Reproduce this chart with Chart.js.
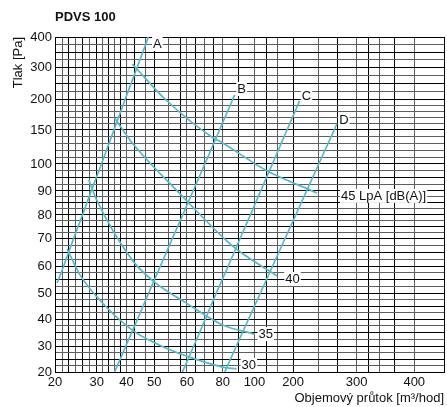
<!DOCTYPE html>
<html>
<head>
<meta charset="utf-8">
<script src="https://cdn.jsdelivr.net/npm/chart.js@4.4.1/dist/chart.umd.min.js"></script>
<style>
  html, body { margin: 0; background: #fff; }
  #wrap { width: 447px; height: 407px; position: relative; }
</style>
</head>
<body>
<div id="wrap"><canvas id="chart"></canvas></div>
<script>
// Axis ticks (values in m3/hod and Pa)
const xGrid = [20, 21.7, 23.3, 25, 26.7, 28.3, 30, 32, 34, 36, 38, 40, 43, 47, 50, 54.5, 58, 60, 65, 70, 75, 80, 90, 100, 130, 160, 200, 240, 270, 300, 320, 340, 365, 400, 450];
const xLabels = [20, 30, 40, 50, 60, 80, 100, 200, 300, 400];
const yGrid = [20, 22.5, 25, 27.5, 30, 32.5, 35, 37.5, 40, 42.5, 45, 47.5, 50, 52.5, 55, 57.5, 60, 62.5, 65, 67.5, 70, 72.5, 75, 77.5, 80, 82.5, 85, 87.5, 90, 92.5, 95, 97.5, 100,
  110, 120, 130, 140, 150, 160, 170, 180, 190, 200, 225, 250, 275, 300, 325, 350, 375, 400];
const yLabels = [20, 30, 40, 50, 60, 70, 80, 90, 100, 150, 200, 300, 400];

// Fan curves A-D
const flowA = [20.5, 22.1, 24.5, 26.6, 28.7, 31.6, 35.8, 39.6, 43.9, 47.9];
const pressA = [53.7, 60, 70, 80, 90, 100, 150, 200, 300, 400];
const flowB = [36, 39.8, 44.0, 48.0, 51.9, 55.6, 58.7, 63.4, 70.0, 78.2, 86.4, 87.5];
const pressB = [20, 30, 40, 50, 60, 70, 80, 90, 100, 150, 200, 212.5];
const flowC = [58.6, 63.8, 70.3, 76.4, 83.5, 91.1, 97.4, 115.9, 146.2, 184.1, 210];
const pressC = [20, 30, 40, 50, 60, 70, 80, 90, 100, 150, 196.8];
const flowD = [81.3, 88.6, 96.3, 115.4, 146.9, 179.7, 204.1, 221.1, 240.3, 264.5, 268.8];
const pressD = [20, 30, 40, 50, 60, 70, 80, 90, 100, 150, 159.7];

// Noise lines LpA dB(A)
const flow45 = [42.1, 53.6, 73.9, 80, 128.2, 237.5];
const press45 = [310, 198.4, 139.7, 130.9, 97.8, 89.2];
const flow40 = [36, 42.1, 57.6, 80, 89.4, 159];
const press40 = [169.4, 130.9, 89.2, 70.4, 65.7, 56.3];
const flow35 = [28.1, 30, 42.1, 50, 59.7, 80, 100];
const press35 = [94.1, 86.3, 62.1, 54.1, 46.2, 37.8, 34.4];
const flow30 = [22.9, 26, 31, 42.1, 51.5, 61.1, 80, 88.75];
const press30 = [66.1, 56.7, 47.3, 35.9, 30.4, 25.8, 21.9, 21.2];

const FONT = "'Liberation Sans', Arial, sans-serif";
const CURVE = '#55b8cb';
const INK = '#111';

// The printed nomogram grid is not a clean log grid, so the axes are calibrated
// piecewise between the labelled values (value -> fraction of axis length).
function toFrac(anchors, v) {
  for (let i = 1; i < anchors.length; i++) {
    const [v0, f0] = anchors[i - 1], [v1, f1] = anchors[i];
    if (v <= v1 || i === anchors.length - 1) return f0 + (v - v0) / (v1 - v0) * (f1 - f0);
  }
}
function fromFrac(anchors, f) {
  for (let i = 1; i < anchors.length; i++) {
    const [v0, f0] = anchors[i - 1], [v1, f1] = anchors[i];
    if (f <= f1 || i === anchors.length - 1) return v0 + (f - f0) / (f1 - f0) * (v1 - v0);
  }
}

class NomogramScale extends Chart.LinearScale {
  buildTicks() {
    return this.options.gridValues.map(v => ({ value: v }));
  }
  getPixelForValue(value) {
    return this.getPixelForDecimal(toFrac(this.options.anchors, value));
  }
  getValueForPixel(pixel) {
    return fromFrac(this.options.anchors, this.getDecimalForPixel(pixel));
  }
}
NomogramScale.id = 'nomogram';
NomogramScale.defaults = Chart.LinearScale.defaults;
Chart.register(NomogramScale);

const pts = (xs, ys) => xs.map((x, i) => ({ x, y: ys[i] }));

const fanLine = (label, xs, ys, offset) => ({
  label, data: pts(xs, ys), borderColor: CURVE, borderWidth: 1.7, showLine: true,
  pointRadius: 0, tension: 0, endLabel: { text: label, offset }
});
const noiseLine = (label, xs, ys, offset) => ({
  label, data: pts(xs, ys), borderColor: CURVE, borderWidth: 1.7, showLine: true,
  pointRadius: 0, tension: 0.4, cubicInterpolationMode: 'monotone', endLabel: { text: label, offset }
});

const endLabels = {
  id: 'endLabels',
  afterDatasetsDraw(chart) {
    const ctx = chart.ctx;
    ctx.save();
    ctx.font = '13px ' + FONT;
    ctx.textBaseline = 'middle';
    ctx.textAlign = 'left';
    chart.data.datasets.forEach((ds, i) => {
      const data = chart.getDatasetMeta(i).data;
      const p = data[data.length - 1];
      const [dx, dy, align] = ds.endLabel.offset;
      const w = ctx.measureText(ds.endLabel.text).width;
      const y = p.y + dy;
      const left = align === 'center' ? p.x + dx - w / 2 : p.x + dx;
      ctx.fillStyle = '#fff';
      ctx.fillRect(left - 1, y - 7, w + 2, 14);
      ctx.fillStyle = INK;
      ctx.fillText(ds.endLabel.text, left, y + 0.5);
    });
    ctx.font = 'bold 13px ' + FONT;
    ctx.fillText('PDVS 100', chart.chartArea.left, chart.chartArea.top - 20);
    ctx.restore();
  }
};

const gridColor = (ctx, majors) => {
  const v = ctx.tick ? ctx.tick.value : null;
  return majors(v, ctx.index) ? '#000' : '#5e5e5e';
};

new Chart(document.getElementById('chart'), {
  type: 'scatter',
  data: {
    datasets: [
      fanLine('A', flowA, pressA, [9, 7, 'center']),
      fanLine('B', flowB, pressB, [7, -6, 'center']),
      fanLine('C', flowC, pressC, [7, -5, 'center']),
      fanLine('D', flowD, pressD, [7, -4, 'center']),
      noiseLine('45 LpA [dB(A)]', flow45, press45, [24, 3, 'left']),
      noiseLine('40', flow40, press40, [8, 3, 'left']),
      noiseLine('35', flow35, press35, [4, 0, 'left']),
      noiseLine('30', flow30, press30, [5, -4, 'left'])
    ]
  },
  plugins: [endLabels],
  options: {
    responsive: true,
    maintainAspectRatio: false,
    animation: false,
    layout: { padding: { top: 37, right: 0, left: 0, bottom: 0 } },
    plugins: { legend: { display: false }, tooltip: { enabled: false } },
    scales: {
      x: {
        type: 'nomogram',
        min: 20, max: 450,
        gridValues: xGrid,
        anchors: [[20, 0], [30, 0.1071], [40, 0.1837], [50, 0.2551], [60, 0.3393], [80, 0.4311],
          [100, 0.5128], [200, 0.6122], [300, 0.7755], [400, 0.9235], [450, 1]],
        afterFit: s => { s.height = 35; },
        grid: { drawTicks: false, lineWidth: 1, color: ctx => gridColor(ctx, (v, i) => i % 2 === 0) },
        border: { color: '#000', width: 1 },
        ticks: {
          autoSkip: false, maxRotation: 0, padding: 3,
          font: { family: FONT, size: 13 }, color: INK,
          callback: v => xLabels.includes(v) ? String(v) : ''
        },
        title: {
          display: true, text: 'Objemový průtok [m³/hod]', align: 'end',
          font: { family: FONT, size: 13 }, color: INK, padding: { top: 0, bottom: 1 }
        }
      },
      y: {
        type: 'nomogram',
        min: 20, max: 400,
        gridValues: yGrid,
        anchors: [[20, 0], [30, 0.0776], [40, 0.1582], [50, 0.2358], [60, 0.3164], [70, 0.4],
          [80, 0.4687], [90, 0.5403], [100, 0.6209], [150, 0.7224], [200, 0.8149], [300, 0.9104], [400, 1]],
        afterFit: s => { s.width = 55; },
        grid: { drawTicks: false, lineWidth: 1, color: ctx => gridColor(ctx, v => v > 100 ? v % 50 === 0 || v === 150 : v % 5 === 0) },
        border: { color: '#000', width: 1 },
        ticks: {
          autoSkip: false, padding: 3,
          font: { family: FONT, size: 13 }, color: INK,
          callback: v => yLabels.includes(v) ? String(v) : ''
        },
        title: {
          display: true, text: 'Tlak [Pa]', align: 'end',
          font: { family: FONT, size: 13 }, color: INK, padding: { top: 11, bottom: 0 }
        }
      }
    }
  }
});
</script>
</body>
</html>
